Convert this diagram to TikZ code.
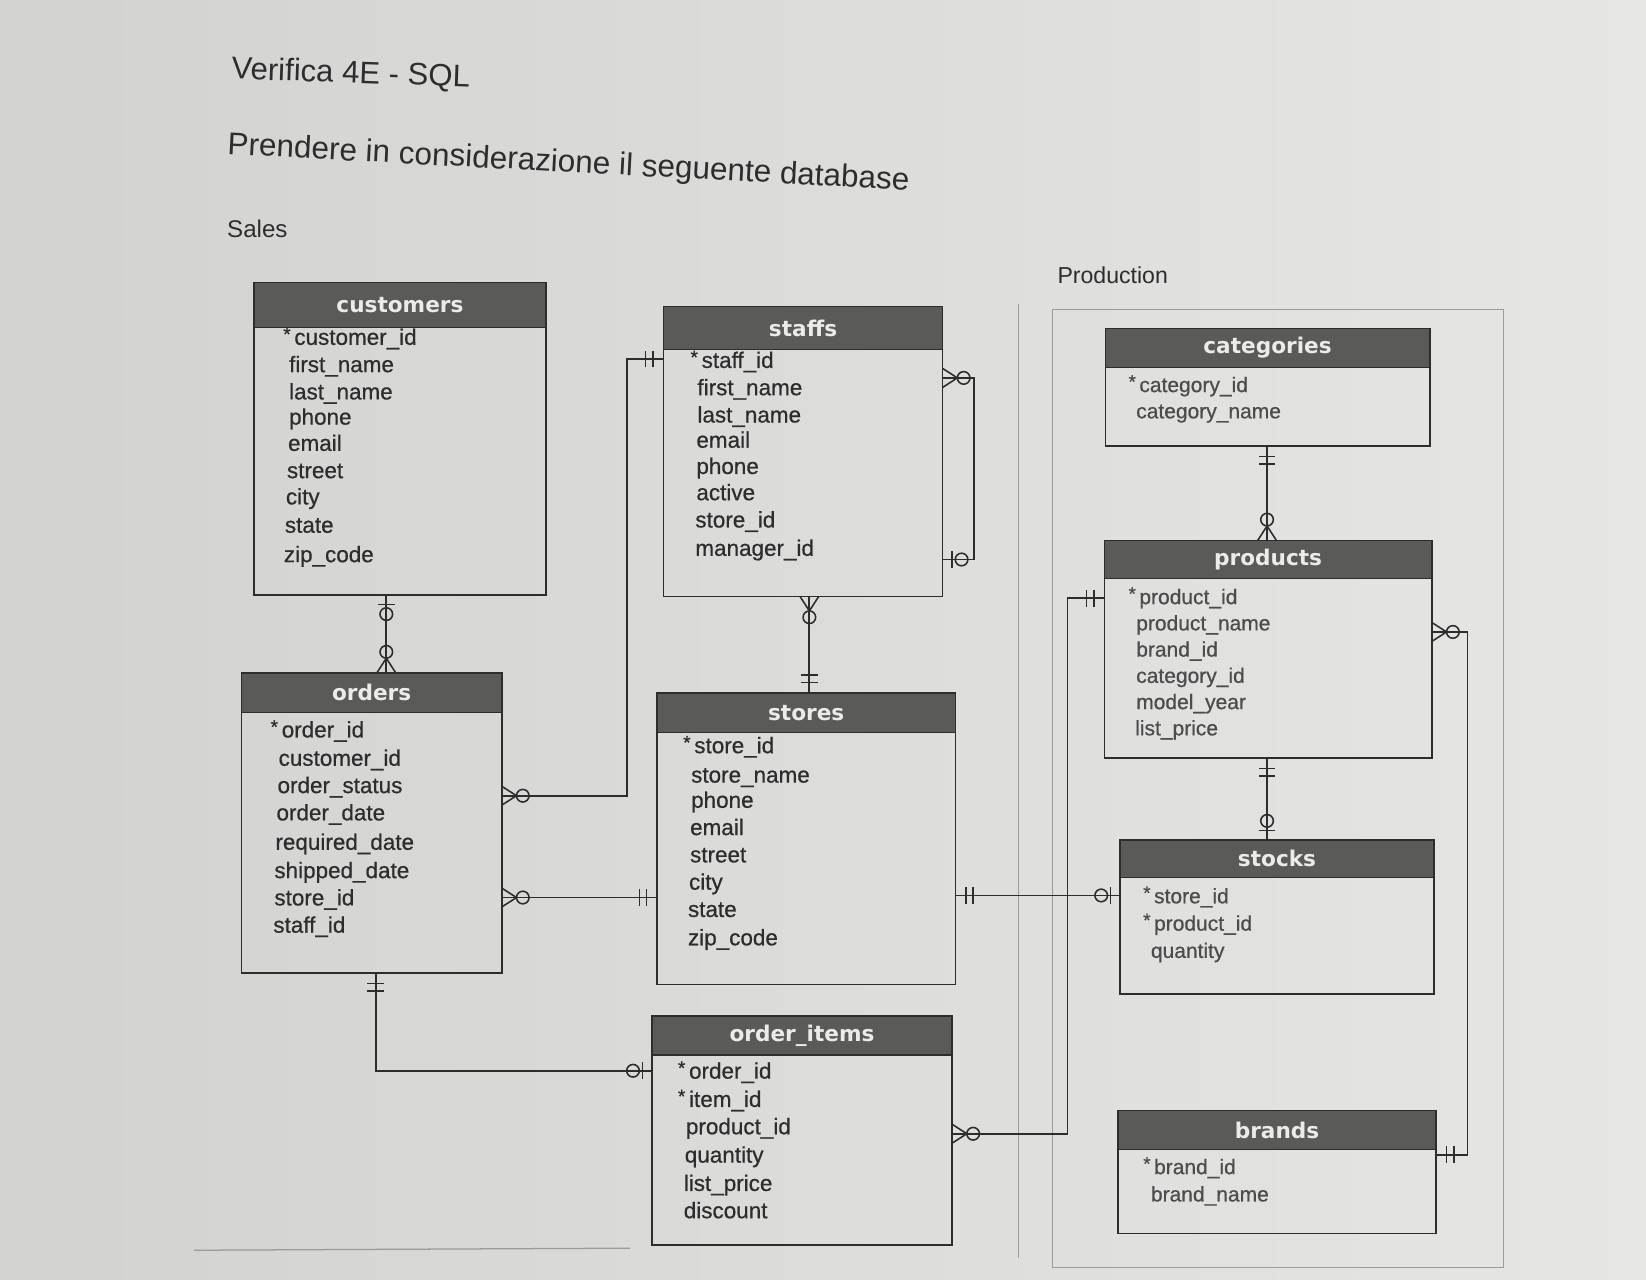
\documentclass[tikz,border=0pt]{standalone}
\usepackage{fontspec}
\setmainfont{Liberation Sans}
\newfontfamily\rowfont[FakeBold=0.6]{Liberation Sans}
\newfontfamily\hdrfont{DejaVu Sans}
\usetikzlibrary{calc}
\definecolor{paperL}{RGB}{210,210,208}
\definecolor{paperR}{RGB}{230,230,229}
\definecolor{hdr}{RGB}{90,90,88}
\definecolor{hdrtxt}{RGB}{235,235,233}
\definecolor{ink}{RGB}{45,45,45}
\definecolor{framec}{RGB}{155,155,155}
\newcommand\pkstar{\llap{\raisebox{0.35ex}{\fontsize{9}{9}\selectfont *}\,}}
\newcommand\erEntity[7]{%
  \fill[hdr] (#2,#3) rectangle (#4,#6);
  \node[entbox, anchor=north west, minimum width={(#4-#2)*0.5pt}, minimum height={(#5-#3)*0.5pt}] (#1) at (#2,#3) {};
  \draw[entline] (#2,#6) -- (#4,#6);
  \node[hdrtext] (#1-title) at ({(#2+#4)/2},{(#3+#6)/2}) {#7};
}
\newcommand\erRow[4]{\node[erow] (#1) at (#2,#3+3) {#4};}
\newcommand\erRowR[4]{\node[erowr] (#1) at (#2,#3+3) {#4};}
\begin{document}
\begin{tikzpicture}[x=0.5pt,y=-0.5pt,
  entbox/.style={draw=ink, line width=0.7pt, inner sep=0pt, outer sep=0pt},
  entline/.style={draw=ink, line width=0.5pt},
  hdrtext/.style={text=hdrtxt, font=\hdrfont\bfseries\fontsize{10.3}{12}\selectfont, inner sep=0pt},
  erow/.style={anchor=west, inner sep=0pt, text=ink, font=\rowfont\fontsize{10.7}{12}\selectfont, text height=8pt, text depth=2.5pt},
  erowr/.style={anchor=west, inner sep=0pt, text=ink!85, font=\rowfont\fontsize{10}{12}\selectfont, text height=8pt, text depth=2.5pt},
  conn/.style={draw=ink, line width=0.85pt},
  ermark/.style={draw=ink, line width=0.75pt},
  pics/erOne/.style={code={\draw[ermark] (10,-8) -- (10,8) (17,-8) -- (17,8);}},
  pics/erZeroOne/.style={code={\draw[ermark] (9,-8) -- (9,8); \draw[ermark] (18,0) circle[radius=3pt];}},
  pics/erZeroMany/.style={code={\draw[ermark] (0,-9) -- (14,0) -- (0,9); \draw[ermark] (20,0) circle[radius=3pt];}},
]
\useasboundingbox (0,0) rectangle (1568,1219);
\shade[left color=paperL, right color=paperR] (0,0) rectangle (1568,1219);

% titles
\node[anchor=base west, inner sep=0pt, rotate=-2, text=ink, font=\fontsize{14.8}{17}\selectfont] (title) at (220,75) {Verifica 4E - SQL};
\node[anchor=base west, inner sep=0pt, rotate=-3, text=ink, font=\fontsize{15}{18}\selectfont] (subtitle) at (216,147) {Prendere in considerazione il seguente database};
\node[anchor=base west, inner sep=0pt, text=ink, font=\fontsize{11.5}{14}\selectfont] (sales) at (216,226) {Sales};
\node[anchor=base west, inner sep=0pt, text=ink, font=\fontsize{11}{14}\selectfont] (production) at (1007,270) {Production};

% production frame and lines
\draw[framec, line width=0.5pt] (1003,295) rectangle (1432,1207);
\draw[framec, line width=0.5pt] (970,290) -- (970,1198);
\draw[framec, line width=0.6pt] (185,1191) -- (600,1189);

% entities
\erEntity{customers}{242}{269}{520}{567}{312}{customers}
\erEntity{staffs}{632}{292}{898}{568}{333}{staffs}
\erEntity{orders}{230}{641}{478}{927}{679}{orders}
\erEntity{stores}{626}{660}{910}{938}{698}{stores}
\erEntity{orderitems}{621}{968}{907}{1186}{1005}{order\_items}
\erEntity{categories}{1053}{313}{1362}{425}{350}{categories}
\erEntity{products}{1052}{515}{1364}{722}{551}{products}
\erEntity{stocks}{1067}{800}{1366}{947}{836}{stocks}
\erEntity{brands}{1065}{1058}{1368}{1175}{1095}{brands}

% rows: customers
\erRow{cu-1}{280}{320}{\pkstar customer\_id}
\erRow{cu-2}{275}{346}{first\_name}
\erRow{cu-3}{275}{372}{last\_name}
\erRow{cu-4}{275}{396}{phone}
\erRow{cu-5}{274}{421}{email}
\erRow{cu-6}{273}{447}{street}
\erRow{cu-7}{272}{472}{city}
\erRow{cu-8}{271}{499}{state}
\erRow{cu-9}{270}{527}{zip\_code}
% staffs
\erRow{st-1}{668}{342}{\pkstar staff\_id}
\erRow{st-2}{664}{368}{first\_name}
\erRow{st-3}{664}{394}{last\_name}
\erRow{st-4}{663}{418}{email}
\erRow{st-5}{663}{443}{phone}
\erRow{st-6}{663}{468}{active}
\erRow{st-7}{662}{494}{store\_id}
\erRow{st-8}{662}{521}{manager\_id}
% orders
\erRow{or-1}{268}{694}{\pkstar order\_id}
\erRow{or-2}{265}{721}{customer\_id}
\erRow{or-3}{264}{747}{order\_status}
\erRow{or-4}{263}{773}{order\_date}
\erRow{or-5}{262}{801}{required\_date}
\erRow{or-6}{261}{828}{shipped\_date}
\erRow{or-7}{261}{854}{store\_id}
\erRow{or-8}{260}{880}{staff\_id}
% stores
\erRow{so-1}{661}{709}{\pkstar store\_id}
\erRow{so-2}{658}{737}{store\_name}
\erRow{so-3}{658}{761}{phone}
\erRow{so-4}{657}{787}{email}
\erRow{so-5}{657}{813}{street}
\erRow{so-6}{656}{839}{city}
\erRow{so-7}{655}{865}{state}
\erRow{so-8}{655}{892}{zip\_code}
% order_items
\erRow{oi-1}{656}{1019}{\pkstar order\_id}
\erRow{oi-2}{656}{1046}{\pkstar item\_id}
\erRow{oi-3}{653}{1072}{product\_id}
\erRow{oi-4}{652}{1099}{quantity}
\erRow{oi-5}{651}{1126}{list\_price}
\erRow{oi-6}{651}{1152}{discount}
% categories
\erRowR{ca-1}{1085}{365}{\pkstar category\_id}
\erRowR{ca-2}{1082}{390}{category\_name}
% products
\erRowR{pr-1}{1085}{567}{\pkstar product\_id}
\erRowR{pr-2}{1082}{592}{product\_name}
\erRowR{pr-3}{1082}{617}{brand\_id}
\erRowR{pr-4}{1082}{642}{category\_id}
\erRowR{pr-5}{1082}{667}{model\_year}
\erRowR{pr-6}{1081}{692}{list\_price}
% stocks
\erRowR{sk-1}{1099}{852}{\pkstar store\_id}
\erRowR{sk-2}{1099}{878}{\pkstar product\_id}
\erRowR{sk-3}{1096}{904}{quantity}
% brands
\erRowR{br-1}{1099}{1110}{\pkstar brand\_id}
\erRowR{br-2}{1096}{1136}{brand\_name}

% helper coordinates
\coordinate (xCO) at (368,0);
\coordinate (vSO) at (597,758);
\coordinate (ySt) at (0,342);
\coordinate (selfA) at (928,360);
\coordinate (selfB) at (928,533);
\coordinate (xSS) at (771,0);
\coordinate (yOS) at (0,855);
\coordinate (cOI) at (358,1020);
\coordinate (ySK) at (0,853);
\coordinate (yPr) at (0,570);
\coordinate (vPO) at (1017,1080);
\coordinate (xCP) at (1207,0);
\coordinate (vPB) at (1398,602);
\coordinate (vPB2) at (1398,1100);

% customers - orders
\draw[conn] (customers.south -| xCO) -- (orders.north -| xCO);
\pic[rotate=-90] at (customers.south -| xCO) {erZeroOne};
\pic[rotate=90] at (orders.north -| xCO) {erZeroMany};
% staffs - orders
\draw[conn] (staffs.west |- ySt) -| (vSO) -- (orders.east |- vSO);
\pic[rotate=180] at (staffs.west |- ySt) {erOne};
\pic at (orders.east |- vSO) {erZeroMany};
% staffs self
\draw[conn] (staffs.east |- selfA) -- (selfA) -- (selfB) -- (staffs.east |- selfB);
\pic at (staffs.east |- selfA) {erZeroMany};
\pic at (staffs.east |- selfB) {erZeroOne};
% staffs - stores
\draw[conn] (staffs.south -| xSS) -- (stores.north -| xSS);
\pic[rotate=-90] at (staffs.south -| xSS) {erZeroMany};
\pic[rotate=90] at (stores.north -| xSS) {erOne};
% orders - stores
\draw[conn] (orders.east |- yOS) -- (stores.west |- yOS);
\pic at (orders.east |- yOS) {erZeroMany};
\pic[rotate=180] at (stores.west |- yOS) {erOne};
% orders - order_items
\draw[conn] (orders.south -| cOI) |- (orderitems.west |- cOI);
\pic[rotate=-90] at (orders.south -| cOI) {erOne};
\pic[rotate=180] at (orderitems.west |- cOI) {erZeroOne};
% stores - stocks
\draw[conn] (stores.east |- ySK) -- (stocks.west |- ySK);
\pic at (stores.east |- ySK) {erOne};
\pic[rotate=180] at (stocks.west |- ySK) {erZeroOne};
% products - order_items
\draw[conn] (products.west |- yPr) -| (vPO) -- (orderitems.east |- vPO);
\pic[rotate=180] at (products.west |- yPr) {erOne};
\pic at (orderitems.east |- vPO) {erZeroMany};
% categories - products
\draw[conn] (categories.south -| xCP) -- (products.north -| xCP);
\pic[rotate=-90] at (categories.south -| xCP) {erOne};
\pic[rotate=90] at (products.north -| xCP) {erZeroMany};
% products - stocks
\draw[conn] (products.south -| xCP) -- (stocks.north -| xCP);
\pic[rotate=-90] at (products.south -| xCP) {erOne};
\pic[rotate=90] at (stocks.north -| xCP) {erZeroOne};
% products - brands
\draw[conn] (products.east |- vPB) -- (vPB) -- (vPB2) -- (brands.east |- vPB2);
\pic at (products.east |- vPB) {erZeroMany};
\pic at (brands.east |- vPB2) {erOne};
\end{tikzpicture}
\end{document}
